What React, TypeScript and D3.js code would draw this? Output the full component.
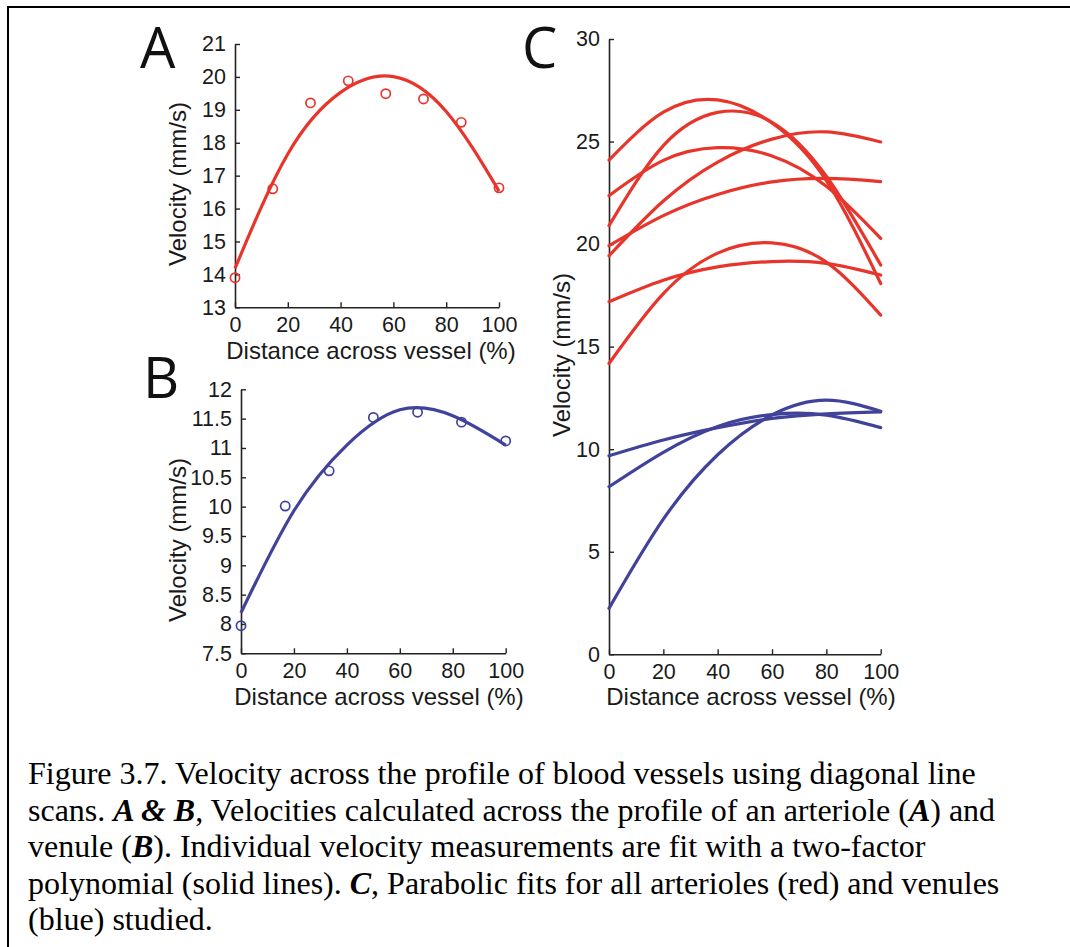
import React, { useEffect, useRef } from "react";
import * as d3 from "d3";

// ---- data ----
const fitX = [0, 20, 40, 60, 80, 100];

const aPointX = [0, 14.3, 28.6, 42.9, 57.1, 71.4, 85.7, 100];
const aPointY = [13.9, 16.6, 19.21, 19.88, 19.49, 19.33, 18.62, 16.63];
const aFit = [14.18, 17.66, 19.53, 20.01, 18.95, 16.53];

const bPointX = [0, 16.7, 33.3, 50, 66.7, 83.3, 100];
const bPointY = [7.97, 10.01, 10.61, 11.52, 11.61, 11.44, 11.12];
const bFit = [8.19, 9.93, 11.05, 11.65, 11.55, 11.05];

const arterioles = [
  [24.1, 26.43, 27.03, 25.91, 23.1, 18.08],
  [20.9, 24.8, 26.42, 25.94, 23.31, 18.98],
  [22.36, 24.08, 24.7, 24.3, 22.82, 20.28],
  [19.43, 22.1, 24.0, 25.12, 25.47, 24.98],
  [19.92, 21.39, 22.42, 23.03, 23.2, 23.05],
  [17.19, 18.24, 18.89, 19.15, 19.06, 18.49],
  [14.18, 17.59, 19.56, 20.06, 19.12, 16.54],
];
const venules = [
  [9.68, 10.45, 11.05, 11.5, 11.72, 11.82],
  [8.17, 9.85, 11.11, 11.69, 11.66, 11.05],
  [2.24, 6.59, 9.73, 11.67, 12.39, 11.85],
];

const xTicks = [0, 20, 40, 60, 80, 100];
const aYTicks = [13, 14, 15, 16, 17, 18, 19, 20, 21];
const bYTicks = [7.5, 8, 8.5, 9, 9.5, 10, 10.5, 11, 11.5, 12];
const cYTicks = [0, 5, 10, 15, 20, 25, 30];

const xTitle = "Distance across vessel (%)";
const yTitle = "Velocity (mm/s)";

const captionLines = [
  [{ t: "Figure 3.7. Velocity across the profile of blood vessels using diagonal line" }],
  [
    { t: "scans. " },
    { t: "A & B", b: true },
    { t: ", Velocities calculated across the profile of an arteriole (" },
    { t: "A", b: true },
    { t: ") and" },
  ],
  [
    { t: "venule (" },
    { t: "B", b: true },
    { t: "). Individual velocity measurements are fit with a two-factor" },
  ],
  [
    { t: "polynomial (solid lines). " },
    { t: "C", b: true },
    { t: ", Parabolic fits for all arterioles (red) and venules" },
  ],
  [{ t: "(blue) studied." }],
];

const RED = "#e8352b";
const BLUE = "#41439a";
const SANS = "Arial, 'Liberation Sans', sans-serif";

type Panel = {
  x0: number; x1: number; yTop: number; yBot: number;
  yDomain: [number, number]; yTicks: number[];
  xTitleX: number; xTitleY: number;
  yTitleX: number; yTitleY: number;
};

export default function App() {
  const ref = useRef<SVGSVGElement | null>(null);

  useEffect(() => {
    const svg = d3.select(ref.current);
    svg.selectAll("*").remove();

    // border
    svg.append("line").attr("x1", 8).attr("x2", 1070).attr("y1", 7).attr("y2", 7)
      .attr("stroke", "#000").attr("stroke-width", 2);
    svg.append("line").attr("x1", 8).attr("x2", 8).attr("y1", 6).attr("y2", 947)
      .attr("stroke", "#000").attr("stroke-width", 2);

    const drawPanel = (p: Panel) => {
      const x = d3.scaleLinear().domain([0, 100]).range([p.x0, p.x1]);
      const y = d3.scaleLinear().domain(p.yDomain).range([p.yBot, p.yTop]);
      const g = svg.append("g");
      const gx = g.append("g").attr("transform", `translate(0,${p.yBot})`)
        .call(d3.axisBottom(x).tickValues(xTicks).tickSizeInner(-5).tickSizeOuter(0).tickPadding(9));
      const gy = g.append("g").attr("transform", `translate(${p.x0},0)`)
        .call(d3.axisLeft(y).tickValues(p.yTicks).tickSizeInner(-5).tickSizeOuter(0).tickPadding(9)
          .tickFormat((d: any) => String(d)));
      [gx, gy].forEach((a) => {
        a.attr("font-family", null).attr("font-size", null);
        a.select(".domain").attr("stroke", "#222").attr("stroke-width", 1.6);
        a.selectAll(".tick line").attr("stroke", "#222").attr("stroke-width", 1.4);
        a.selectAll("text").attr("font-family", SANS).attr("font-size", 21.5).attr("fill", "#1a1a1a");
      });
      g.append("text").attr("x", p.xTitleX).attr("y", p.xTitleY).attr("text-anchor", "middle")
        .attr("font-family", SANS).attr("font-size", 24).attr("fill", "#1a1a1a").text(xTitle);
      g.append("text").attr("transform", `translate(${p.yTitleX},${p.yTitleY}) rotate(-90)`)
        .attr("text-anchor", "middle").attr("font-family", SANS).attr("font-size", 24)
        .attr("fill", "#1a1a1a").text(yTitle);
      return { x, y, g };
    };

    // Panel A
    const A = drawPanel({
      x0: 235, x1: 499, yTop: 44, yBot: 307.3, yDomain: [13, 21], yTicks: aYTicks,
      xTitleX: 371, xTitleY: 359, yTitleX: 186, yTitleY: 184,
    });
    const lineA = d3.line<number>().x((_, i) => A.x(fitX[i])).y((d) => A.y(d)).curve(d3.curveNatural);
    A.g.append("path").attr("d", lineA(aFit)).attr("fill", "none").attr("stroke", RED).attr("stroke-width", 3.2);
    A.g.selectAll("circle.pt").data(aPointY).enter().append("circle")
      .attr("cx", (_, i) => A.x(aPointX[i])).attr("cy", (d) => A.y(d)).attr("r", 4.6)
      .attr("fill", "none").attr("stroke", RED).attr("stroke-width", 1.7);

    // Panel B
    const B = drawPanel({
      x0: 241, x1: 505.7, yTop: 389.3, yBot: 653.3, yDomain: [7.5, 12], yTicks: bYTicks,
      xTitleX: 379, xTitleY: 705, yTitleX: 186, yTitleY: 540,
    });
    const lineB = d3.line<number>().x((_, i) => B.x(fitX[i])).y((d) => B.y(d)).curve(d3.curveNatural);
    B.g.append("path").attr("d", lineB(bFit)).attr("fill", "none").attr("stroke", BLUE).attr("stroke-width", 3.2);
    B.g.selectAll("circle.pt").data(bPointY).enter().append("circle")
      .attr("cx", (_, i) => B.x(bPointX[i])).attr("cy", (d) => B.y(d)).attr("r", 4.6)
      .attr("fill", "none").attr("stroke", BLUE).attr("stroke-width", 1.7);

    // Panel C
    const C = drawPanel({
      x0: 609, x1: 880.7, yTop: 39, yBot: 654.3, yDomain: [0, 30], yTicks: cYTicks,
      xTitleX: 751, xTitleY: 705, yTitleX: 570, yTitleY: 355,
    });
    const lineC = d3.line<number>().x((_, i) => C.x(fitX[i])).y((d) => C.y(d)).curve(d3.curveNatural);
    arterioles.forEach((s) => {
      C.g.append("path").attr("d", lineC(s)).attr("fill", "none").attr("stroke", RED)
        .attr("stroke-width", 3.2).attr("stroke-linecap", "round");
    });
    venules.forEach((s) => {
      C.g.append("path").attr("d", lineC(s)).attr("fill", "none").attr("stroke", BLUE)
        .attr("stroke-width", 3.2).attr("stroke-linecap", "round");
    });

    // Panel letters
    const letters = [
      { t: "A", x: 140, y: 68 },
      { t: "B", x: 143, y: 398 },
      { t: "C", x: 522, y: 68 },
    ];
    letters.forEach((l) => {
      svg.append("text").attr("x", l.x).attr("y", l.y).attr("font-family", "'Open Sans', sans-serif")
        .attr("font-size", 56).attr("fill", "#111").text(l.t);
    });

    // Caption
    captionLines.forEach((line, i) => {
      const txt = svg.append("text").attr("x", 28).attr("y", 784 + i * 36.6)
        .attr("font-family", "'Liberation Serif', 'Times New Roman', serif").attr("font-size", 32)
        .attr("fill", "#000");
      line.forEach((s: any) => {
        txt.append("tspan").attr("font-weight", s.b ? "bold" : "normal")
          .attr("font-style", s.b ? "italic" : "normal").text(s.t);
      });
    });
  }, []);

  return (
    <svg ref={ref} width={1070} height={947}
      style={{ position: "absolute", left: 0, top: 0, background: "#fff" }} />
  );
}
